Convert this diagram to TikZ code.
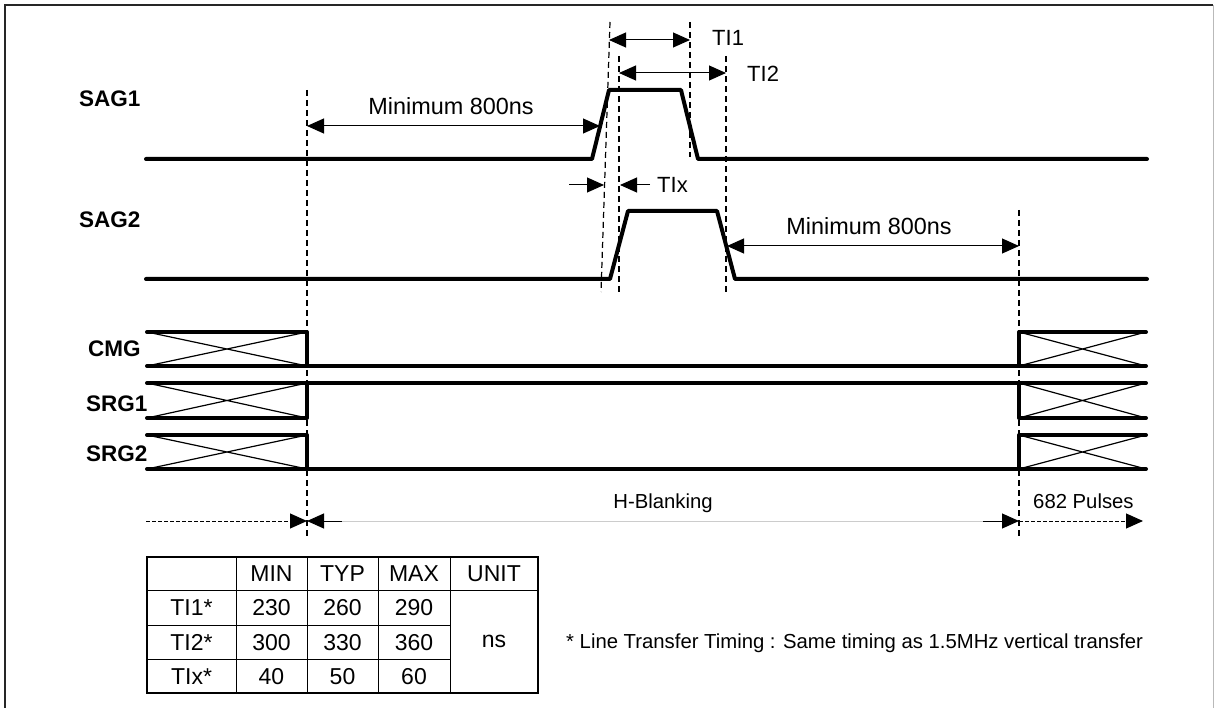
\documentclass[tikz,border=0pt]{standalone}
\usepackage{fontspec}
\setmainfont{Liberation Sans}
\usetikzlibrary{positioning}
\usetikzlibrary{calc}
\usetikzlibrary{arrows.meta}

\begin{document}
\begin{tikzpicture}[x=1pt,y=-1pt,
  wave/.style={line width=4pt,line cap=round,line join=round},
  cross/.style={line width=1.2pt},
  guide/.style={line width=1.2pt,dash pattern=on 6pt off 4pt},
  dim/.style={line width=1pt,{Triangle[length=17pt,width=15pt]}-{Triangle[length=17pt,width=15pt]}},
  tip/.style={line width=1pt,-{Triangle[length=17pt,width=15pt]}},
  dtip/.style={line width=1pt,dash pattern=on 4pt off 2pt,-{Triangle[length=17pt,width=15pt]}},
  siglabel/.style={font=\bfseries\fontsize{22.5}{26}\selectfont,anchor=base west,inner sep=0pt},
  txt/.style={font=\fontsize{22}{26}\selectfont,inner sep=0pt},
  small/.style={font=\fontsize{20.3}{24}\selectfont,inner sep=0pt},
  cell/.style={font=\fontsize{23}{26}\selectfont,anchor=base,inner sep=0pt}]
\useasboundingbox (0,0) rectangle (1215,708);

% frame
\draw[line width=1.2pt,black!85] (5,712) -- (5,5) -- (1213,5);
\draw[line width=1pt,gray!55] (1213,5) -- (1213,712);

% signal names
\node[siglabel] (sag1) at (79,107) {SAG1};
\node[siglabel] (sag2) at (79,228) {SAG2};
\node[siglabel] (cmg)  at (88,357) {CMG};
\node[siglabel] (srg1) at (86,411) {SRG1};
\node[siglabel] (srg2) at (86,461) {SRG2};

% SAG pulses
\draw[wave] (146,159) -- (592,159) -- (609,90) -- (681,90) -- (698,159) -- (1147,159);
\draw[wave] (146,279) -- (610,279) -- (628,211) -- (717,211) -- (735,279) -- (1147,279);

% CMG, SRG1, SRG2 with don't care boxes
\foreach \lv/\ot in {366/332,383/418,469/435} {
  \draw[cross] (147,\lv) -- (307,\ot) (147,\ot) -- (307,\lv);
  \draw[cross] (1019,\lv) -- (1146,\ot) (1019,\ot) -- (1146,\lv);
  \draw[wave] (147,\ot) -- (307,\ot) -- (307,\lv) -- (1019,\lv) -- (1019,\ot) -- (1146,\ot);
  \draw[wave] (147,\lv) -- (307,\lv);
  \draw[wave] (1019,\lv) -- (1146,\lv);
}

% guide lines
\coordinate (ga) at (307,90);   \coordinate (gA) at (307,538);
\coordinate (gb) at (610,22);   \coordinate (gB) at (601,292);
\coordinate (gc) at (619,56);   \coordinate (gC) at (619,293);
\coordinate (gd) at (690,22);   \coordinate (gD) at (690,157);
\coordinate (ge) at (726,56);   \coordinate (gE) at (726,293);
\coordinate (gf) at (1019,210); \coordinate (gF) at (1019,538);
\foreach \s/\e in {ga/gA,gb/gB,gc/gC,gd/gD,ge/gE,gf/gF}
  \draw[guide] (\s) -- (\e);

% timing arrows
\coordinate (m1a) at (307,126); \coordinate (m1b) at (600,126);
\coordinate (m2a) at (727,246); \coordinate (m2b) at (1019,246);
\coordinate (t1a) at (609,40);  \coordinate (t1b) at (690,40);
\coordinate (t2a) at (619,73);  \coordinate (t2b) at (726,73);
\draw[dim] (m1a) -- (m1b);
\draw[dim] (m2a) -- (m2b);
\draw[dim] (t1a) -- (t1b);
\draw[dim] (t2a) -- (t2b);
\coordinate (xa) at (569,185); \coordinate (xb) at (604,185);
\coordinate (xc) at (650,185); \coordinate (xd) at (620,185);
\draw[tip] (xa) -- (xb);
\draw[tip] (xc) -- (xd);

\node[txt,font=\fontsize{23.4}{26}\selectfont,anchor=base] (min1) at (451,115) {Minimum 800ns};
\node[txt,font=\fontsize{23.4}{26}\selectfont,anchor=base] (min2) at (869,235) {Minimum 800ns};
\node[txt,anchor=base west] (ti1) at (712,46) {TI1};
\node[txt,anchor=base west] (ti2) at (747,82) {TI2};
\node[txt,anchor=base west] (tix) at (657,193) {TIx};

% H-Blanking
\coordinate (ha) at (146,521);  \coordinate (hb) at (307,521);
\coordinate (hc) at (342,521);  \coordinate (hd) at (983,521);
\coordinate (he) at (1019,521); \coordinate (hf) at (1143,521);
\draw[dtip] (ha) -- (hb);
\draw[tip] (hc) -- (hb);
\draw[line width=1pt,gray!40] (hc) -- (hd);
\draw[tip] (hd) -- (he);
\draw[dtip] (he) -- (hf);
\node[small,anchor=base] (hbl) at (663,508) {H-Blanking};
\node[small,anchor=base west] (pul) at (1033,508) {682 Pulses};

% table
\draw[line width=1.8pt] (147,557) rectangle (538,693);
\foreach \x in {236,307,378,450}
  \draw[line width=1pt] (\x,557) -- (\x,693);
\foreach \y in {625,659}
  \draw[line width=1pt] (147,\y) -- (450,\y);
\draw[line width=1pt] (147,590) -- (538,590);

\foreach \x/\t [count=\i] in {271.5/MIN,342.5/TYP,414/MAX,494/UNIT}
  \node[cell] (h\i) at (\x,581) {\t};
\foreach \y/\n/\a/\b/\c [count=\r] in {615.5/TI1*/230/260/290,650/TI2*/300/330/360,684/TIx*/40/50/60} {
  \node[cell] (n\r) at (191.5,\y) {\n};
  \node[cell] (a\r) at (271.5,\y) {\a};
  \node[cell] (b\r) at (342.5,\y) {\b};
  \node[cell] (c\r) at (414,\y) {\c};
}
\node[cell] (unit) at (494,647) {ns};

\node[small,anchor=base west] (foot) at (566,648)
  {* Line Transfer Timing : Same timing as 1.5MHz vertical transfer};

\end{tikzpicture}
\end{document}
